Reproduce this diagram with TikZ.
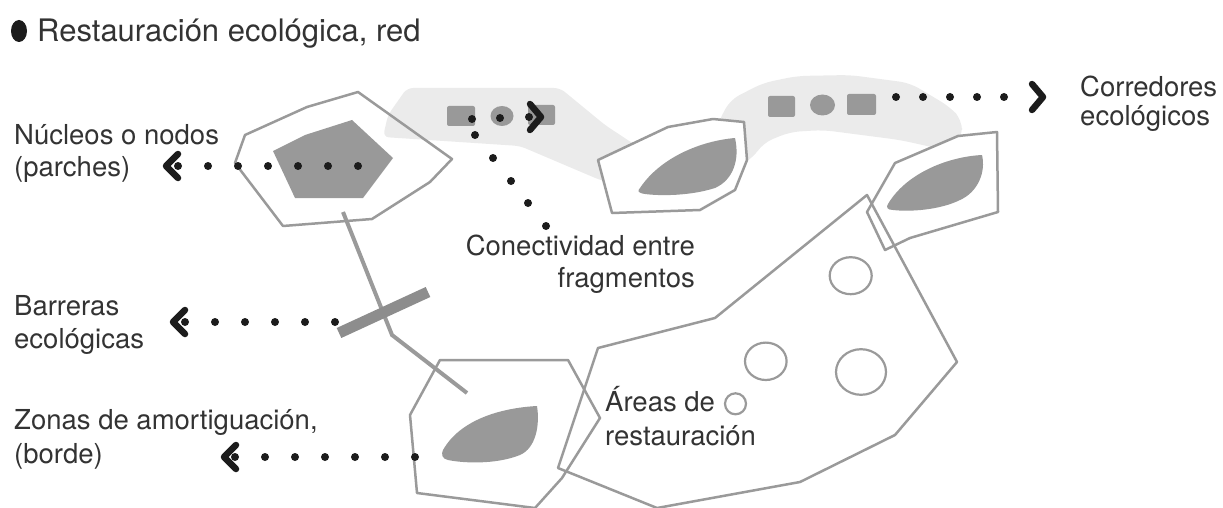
\documentclass[tikz,border=0pt]{standalone}
\usepackage{fontspec}
\setmainfont{TeX Gyre Heros}
\definecolor{outl}{HTML}{9A9A9A}
\definecolor{patch}{HTML}{999999}
\definecolor{bandc}{HTML}{EBEBEB}
\definecolor{txt}{HTML}{333333}
\definecolor{ink}{HTML}{1C1C1C}
\tikzset{
  poly/.style={draw=outl, line width=2.5pt, line join=round},
  lbl/.style={anchor=base west, inner sep=0pt, text=txt, font=\fontsize{27.5}{32}\selectfont},
  lblr/.style={anchor=base east, inner sep=0pt, text=txt, font=\fontsize{27.5}{32}\selectfont},
  titlelbl/.style={anchor=base west, inner sep=0pt, text=txt, font=\fontsize{31}{36}\selectfont},
  dotline/.style={draw=ink, line width=8pt, line cap=round, dash pattern=on 0pt off 30pt},
  dotlinek/.style={draw=ink, line width=8pt, line cap=round, dash pattern=on 0pt off 27pt},
  chev/.style={draw=ink, line width=6.5pt, line cap=round, line join=round},
  ring/.style={draw=outl, line width=2.2pt}
}
\begin{document}
\begin{tikzpicture}[x=1pt,y=-1pt]
\useasboundingbox (0,0) rectangle (1223,508);

% corridors (light bands)
\fill[bandc, rounded corners=6pt] (407,88) -- (560,88) -- (605,125) -- (655,158) -- (650,192) -- (600,180) -- (520,146) -- (383,137) -- (388,115) -- cycle;
\fill[bandc, rounded corners=10pt] (717,125) -- (730,100) -- (763,83) -- (797,76) -- (850,75) -- (910,83) -- (950,107) -- (962,120) -- (962,138) -- (945,150) -- (900,140) -- (823,130) -- (790,132) -- (763,143) -- (753,158) -- (735,168) -- cycle;

% nucleus polygon and patch
\draw[poly] (235,163) -- (245,135) -- (307,107) -- (358,92) -- (452,159) -- (430,182) -- (372,219) -- (283,226) -- cycle;
\fill[patch] (273,151) -- (305,135) -- (352,120) -- (393,158) -- (363,198) -- (295,198) -- cycle;

% middle polygon and leaf
\draw[poly, fill=white] (598,160) -- (668,127) -- (713,119) -- (744,122) -- (747,160) -- (735,190) -- (700,210) -- (612,213) -- cycle;
\fill[patch] (640,188) .. controls (660,158) and (700,141) .. (735,138) .. controls (740,160) and (733,180) .. (715,188) .. controls (690,196) and (660,196) .. (645,194) .. controls (638,193) and (637,191) .. (640,188) -- cycle;

% right polygon and leaf
\draw[poly, fill=white] (867,212) -- (895,163) -- (958,136) -- (997,132) -- (998,212) -- (910,238) -- (885,250) -- cycle;
\fill[patch] (888,204) .. controls (905,175) and (945,157) .. (982,155) .. controls (986,172) and (978,192) .. (960,200) .. controls (940,210) and (910,212) .. (893,210) .. controls (887,210) and (886,207) .. (888,204) -- cycle;

% big restoration polygon
\draw[poly] (558,468) -- (598,348) -- (715,318) -- (867,195) -- (957,362) -- (895,435) -- (800,482) -- (657,508) -- cycle;

% lower polygon and leaf
\draw[poly] (410,415) -- (440,360) -- (568,360) -- (600,418) -- (562,478) -- (535,508) -- (417,493) -- cycle;
\fill[patch] (443,450) .. controls (460,420) and (500,408) .. (537,406) .. controls (540,425) and (536,448) .. (520,455) .. controls (495,465) and (462,463) .. (448,460) .. controls (442,459) and (441,454) .. (443,450) -- cycle;

% corridor symbols
\fill[patch, rounded corners=2pt] (447,106) rectangle (475,126);
\fill[patch] (502,116) ellipse [x radius=11.5, y radius=10];
\fill[patch, rounded corners=2pt] (528,105) rectangle (555,125);
\fill[patch, rounded corners=2pt] (768,96) rectangle (795,117);
\fill[patch] (822.5,105) ellipse [x radius=12.5, y radius=10.5];
\fill[patch, rounded corners=2pt] (847,94) rectangle (876,115);

% link line and barrier
\draw[draw=outl, line width=4pt] (343,212) -- (392,335) -- (467,393);
\draw[draw=patch!92!black, line width=11pt] (339,333) -- (428,292);

% restoration areas
\draw[ring] (850.7,275.7) ellipse [x radius=21, y radius=18.5];
\draw[ring] (765.8,361.3) ellipse [x radius=20.8, y radius=18.7];
\draw[ring] (861,372) ellipse [x radius=25, y radius=22.8];
\draw[ring] (735.5,403.8) circle [radius=10.5];

% dotted leaders
\coordinate (nucS) at (178,166); \coordinate (nucE) at (358,166);
\draw[dotline] (nucS) -- (nucE);
\draw[chev] (178,154) -- (166,166) -- (178,178);

\coordinate (barS) at (185,322); \coordinate (barE) at (335,322);
\draw[dotline] (barS) -- (barE);
\draw[chev] (185,310) -- (173,322) -- (185,334);

\coordinate (zonS) at (235,457); \coordinate (zonE) at (415,457);
\draw[dotline] (zonS) -- (zonE);
\draw[chev] (236,445) -- (224,457) -- (236,469);

\coordinate (corS) at (896,97); \coordinate (corE) at (1031,97);
\draw[dotlinek] (corS) -- (corE);
\draw[chev] (1032,84) -- (1043,97) -- (1032,110);

\foreach \p in {(546,226),(528,203),(511,181),(493,158),(475,135),(472,119),(500,118),(529,117)}
  \fill[ink] \p circle [radius=4];
\draw[chev] (530,104) -- (541,117) -- (530,130);

% title
\fill[ink] (19,31) ellipse [x radius=8, y radius=11];
\node[titlelbl] (ttl) at (37,42) {Restauración ecológica, red};

% labels
\node[lbl] (nuc1) at (14,145) {Núcleos o nodos};
\node[lbl] (nuc2) at (14,176) {(parches)};
\node[lbl] (bar1) at (14,315) {Barreras};
\node[lbl] (bar2) at (14,348) {ecológicas};
\node[lbl] (zon1) at (14,429) {Zonas de amortiguación,};
\node[lbl] (zon2) at (14,463) {(borde)};
\node[lbl] (cor1) at (1080,97) {Corredores};
\node[lbl] (cor2) at (1080,126) {ecológicos};
\node[lblr] (con1) at (695,255) {Conectividad entre};
\node[lblr] (con2) at (695,287) {fragmentos};
\node[lbl] (are1) at (605,411) {Áreas de};
\node[lbl] (are2) at (605,445) {restauración};
\end{tikzpicture}
\end{document}
